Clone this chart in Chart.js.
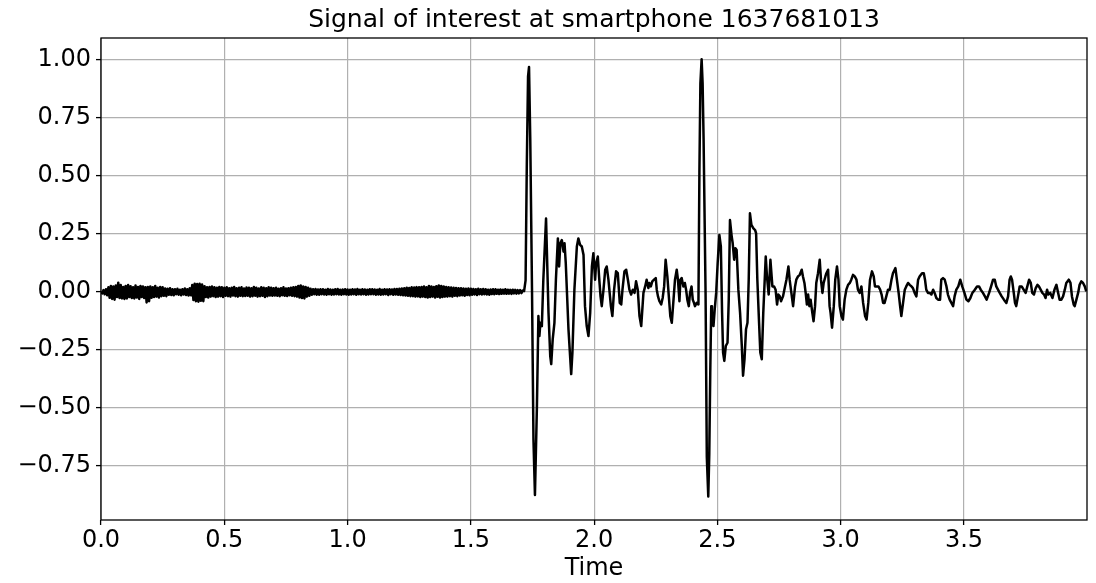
<!DOCTYPE html>
<html>
<head>
<meta charset="utf-8">
<title>Signal of interest</title>
<script src="https://cdn.jsdelivr.net/npm/chart.js@4.4.0/dist/chart.umd.min.js"></script>
<style>
  html, body { margin: 0; padding: 0; background: #fff; }
  #wrap { width: 1096px; height: 583px; }
</style>
</head>
<body>
<div id="wrap"><canvas id="signalChart" width="1096" height="583"></canvas></div>
<script>
// quiet stretch before the first arrival, one sample every 5 ms
var quietStart = 0.0;
var quietStep = 0.005;
var quietValues = [
  0.002, -0.006, 0.008, -0.010, 0.012, -0.014, 0.020, -0.025, 0.026, -0.030, 0.024, -0.033, 0.028, -0.022, 0.040, -0.026, 0.030, -0.028, 0.022, -0.030,
  0.026, -0.028, 0.030, -0.022, 0.025, -0.026, 0.020, -0.028, 0.028, -0.024, 0.022, -0.030, 0.026, -0.022, 0.024, -0.026, 0.020, -0.045, 0.022, -0.040,
  0.024, -0.025, 0.020, -0.022, 0.026, -0.020, 0.018, -0.024, 0.022, -0.018, 0.020, -0.016, 0.015, -0.018, 0.014, -0.012, 0.016, -0.013, 0.012, -0.014,
  0.012, -0.010, 0.014, -0.012, 0.010, -0.014, 0.012, -0.011, 0.015, -0.013, 0.012, -0.015, 0.016, -0.014, 0.030, -0.035, 0.036, -0.040, 0.034, -0.042,
  0.035, -0.038, 0.032, -0.040, 0.025, -0.022, 0.020, -0.024, 0.022, -0.020, 0.024, -0.018, 0.020, -0.022, 0.018, -0.020, 0.022, -0.018, 0.020, -0.022,
  0.018, -0.016, 0.020, -0.018, 0.016, -0.020, 0.018, -0.015, 0.022, -0.018, 0.016, -0.020, 0.018, -0.016, 0.020, -0.018, 0.015, -0.017, 0.019, -0.016,
  0.018, -0.020, 0.016, -0.018, 0.022, -0.016, 0.018, -0.020, 0.015, -0.018, 0.020, -0.016, 0.018, -0.022, 0.016, -0.018, 0.020, -0.015, 0.018, -0.016,
  0.016, -0.015, 0.018, -0.016, 0.014, -0.018, 0.016, -0.014, 0.020, -0.016, 0.015, -0.017, 0.016, -0.014, 0.018, -0.016, 0.020, -0.018, 0.022, -0.020,
  0.026, -0.024, 0.028, -0.026, 0.024, -0.028, 0.022, -0.020, 0.018, -0.016, 0.014, -0.012, 0.012, -0.010, 0.013, -0.012, 0.011, -0.012, 0.012, -0.010,
  0.012, -0.011, 0.010, -0.012, 0.013, -0.010, 0.011, -0.012, 0.010, -0.011, 0.012, -0.010, 0.013, -0.011, 0.010, -0.012, 0.011, -0.010, 0.012, -0.011,
  0.011, -0.012, 0.010, -0.011, 0.012, -0.010, 0.011, -0.012, 0.013, -0.010, 0.010, -0.011, 0.012, -0.010, 0.011, -0.012, 0.010, -0.011, 0.012, -0.010,
  0.012, -0.010, 0.011, -0.012, 0.010, -0.011, 0.013, -0.012, 0.010, -0.011, 0.012, -0.010, 0.011, -0.013, 0.012, -0.010, 0.011, -0.012, 0.013, -0.011,
  0.013, -0.012, 0.014, -0.013, 0.015, -0.014, 0.016, -0.015, 0.018, -0.016, 0.017, -0.018, 0.020, -0.018, 0.019, -0.020, 0.021, -0.019, 0.020, -0.022,
  0.022, -0.020, 0.024, -0.022, 0.020, -0.024, 0.026, -0.022, 0.024, -0.020, 0.022, -0.024, 0.025, -0.021, 0.028, -0.024, 0.026, -0.022, 0.024, -0.020,
  0.022, -0.020, 0.020, -0.018, 0.019, -0.020, 0.018, -0.016, 0.017, -0.018, 0.016, -0.015, 0.016, -0.014, 0.015, -0.016, 0.014, -0.013, 0.015, -0.014,
  0.014, -0.012, 0.013, -0.011, 0.012, -0.013, 0.014, -0.010, 0.012, -0.011, 0.013, -0.010, 0.012, -0.011, 0.010, -0.012, 0.011, -0.009, 0.012, -0.010,
  0.012, -0.008, 0.010, -0.009, 0.011, -0.008, 0.010, -0.007, 0.012, -0.008, 0.010, -0.007, 0.009, -0.008, 0.010, -0.006, 0.009, -0.007, 0.008, -0.006,
  0.008, -0.005, 0.006
];

// the two arrivals and their ringing
var burstTimes = [
  1.716, 1.722, 1.727, 1.732, 1.736, 1.741, 1.748, 1.754, 1.760, 1.768,
  1.774, 1.778, 1.782, 1.788, 1.794, 1.805, 1.815, 1.822, 1.826, 1.832,
  1.839, 1.845, 1.853, 1.858, 1.863, 1.869, 1.876, 1.880, 1.885, 1.896,
  1.907, 1.912, 1.920, 1.930, 1.936, 1.943, 1.950, 1.957, 1.963, 1.970,
  1.977, 1.984, 1.991, 1.997, 2.004, 2.008, 2.015, 2.020, 2.026, 2.031,
  2.038, 2.045, 2.051, 2.058, 2.068, 2.074, 2.081, 2.089, 2.096, 2.104,
  2.110, 2.115, 2.123, 2.130, 2.137, 2.143, 2.150, 2.157, 2.164, 2.170,
  2.177, 2.184, 2.191, 2.200, 2.207, 2.213, 2.220, 2.224, 2.230, 2.236,
  2.243, 2.250, 2.254, 2.259, 2.265, 2.272, 2.278, 2.284, 2.290, 2.297,
  2.304, 2.309, 2.315, 2.322, 2.328, 2.335, 2.340, 2.346, 2.350, 2.355,
  2.362, 2.368, 2.373, 2.378, 2.384, 2.389, 2.395, 2.400, 2.405, 2.409,
  2.416, 2.423, 2.427, 2.431, 2.436, 2.440, 2.444, 2.452, 2.457, 2.463,
  2.467, 2.471, 2.475, 2.478, 2.484, 2.489, 2.495, 2.501, 2.508, 2.514,
  2.519, 2.523, 2.528, 2.534, 2.541, 2.546, 2.551, 2.558, 2.562, 2.568,
  2.573, 2.578, 2.585, 2.592, 2.599, 2.604, 2.610, 2.616, 2.622, 2.627,
  2.632, 2.638, 2.646, 2.653, 2.657, 2.662, 2.669, 2.674, 2.680, 2.686,
  2.696, 2.701, 2.708, 2.715, 2.723, 2.730, 2.736, 2.742, 2.747, 2.753,
  2.758, 2.766, 2.773, 2.780, 2.788, 2.793, 2.800, 2.807, 2.815, 2.820,
  2.827, 2.834, 2.842, 2.847, 2.853, 2.858, 2.863, 2.868, 2.873, 2.878,
  2.885, 2.890, 2.896, 2.901, 2.908, 2.915, 2.920, 2.926, 2.931, 2.938,
  2.942, 2.949, 2.955, 2.959, 2.965, 2.972, 2.978, 2.985, 2.991, 2.996,
  3.003, 3.009, 3.016, 3.023, 3.030, 3.037, 3.043, 3.050, 3.057, 3.064,
  3.070, 3.077, 3.084, 3.091, 3.099, 3.105, 3.112, 3.119, 3.127, 3.134,
  3.139, 3.145, 3.153, 3.160, 3.166, 3.172, 3.178, 3.185, 3.192, 3.199,
  3.206, 3.212, 3.222, 3.228, 3.235, 3.241, 3.246, 3.253, 3.260, 3.266,
  3.273, 3.280, 3.287, 3.293, 3.300, 3.307, 3.314, 3.320, 3.330, 3.337,
  3.342, 3.347, 3.354, 3.361, 3.368, 3.375, 3.381, 3.388, 3.395, 3.403,
  3.408, 3.415, 3.422, 3.429, 3.435, 3.442, 3.449, 3.456, 3.462, 3.469,
  3.477, 3.485, 3.493, 3.502, 3.510, 3.518, 3.526, 3.534, 3.544, 3.553,
  3.561, 3.568, 3.577, 3.585, 3.592, 3.602, 3.610, 3.618, 3.625, 3.631,
  3.638, 3.645, 3.653, 3.662, 3.672, 3.679, 3.685, 3.690, 3.695, 3.702,
  3.707, 3.712, 3.719, 3.726, 3.734, 3.742, 3.750, 3.757, 3.764, 3.771,
  3.777, 3.784, 3.791, 3.798, 3.804, 3.811, 3.818, 3.825, 3.831, 3.837,
  3.842, 3.850, 3.859, 3.867, 3.875, 3.882, 3.888, 3.895, 3.902, 3.909,
  3.915, 3.925, 3.932, 3.938, 3.945, 3.949, 3.956, 3.963, 3.969, 3.976,
  3.983, 3.990, 3.996
];
var burstValues = [
  0.004, 0.050, 0.550, 0.930, 0.970, 0.657, 0.017, -0.637, -0.875, -0.494,
  -0.104, -0.190, -0.133, -0.147, 0.053, 0.317, -0.090, -0.276, -0.311, -0.204,
  -0.133, 0.053, 0.231, 0.110, 0.210, 0.224, 0.174, 0.210, 0.124, -0.161,
  -0.354, -0.261, 0.010, 0.196, 0.231, 0.203, 0.196, 0.160, -0.061, -0.147,
  -0.190, -0.090, 0.110, 0.167, 0.053, 0.124, 0.153, 0.067, -0.019, -0.061,
  0.010, 0.096, 0.110, 0.053, -0.061, -0.104, 0.010, 0.089, 0.081, -0.047,
  -0.054, 0.010, 0.089, 0.096, 0.053, 0.010, -0.011, 0.010, -0.004, 0.046,
  0.010, -0.104, -0.147, -0.004, 0.024, 0.053, 0.017, 0.039, 0.024, 0.046,
  0.053, 0.060, 0.010, -0.019, -0.040, -0.054, -0.026, 0.024, 0.139, 0.067,
  -0.033, -0.104, -0.133, -0.033, 0.053, 0.096, 0.053, -0.040, 0.053, 0.060,
  0.024, 0.039, 0.010, -0.033, -0.061, -0.004, 0.024, -0.033, -0.047, -0.061,
  -0.047, -0.054, 0.515, 0.900, 1.003, 0.900, 0.657, -0.004, -0.710, -0.882,
  -0.700, -0.350, -0.062, -0.119, -0.147, -0.076, -0.004, 0.124, 0.246, 0.196,
  -0.090, -0.261, -0.297, -0.233, -0.219, -0.033, 0.310, 0.239, 0.210, 0.139,
  0.189, 0.181, 0.010, -0.090, -0.233, -0.361, -0.290, -0.161, -0.133, 0.053,
  0.339, 0.289, 0.274, 0.267, 0.253, 0.053, -0.133, -0.261, -0.290, -0.090,
  0.153, 0.067, -0.011, 0.139, 0.024, 0.024, 0.010, -0.054, -0.011, -0.019,
  -0.040, -0.019, 0.017, 0.053, 0.110, 0.053, -0.004, -0.061, 0.024, 0.053,
  0.067, 0.074, 0.096, 0.067, 0.039, -0.004, -0.054, -0.011, -0.061, -0.033,
  -0.090, -0.126, -0.061, 0.039, 0.081, 0.139, 0.053, -0.004, 0.039, 0.067,
  0.081, 0.096, -0.061, -0.090, -0.154, -0.061, 0.053, 0.110, 0.053, -0.061,
  -0.104, -0.119, -0.033, 0.010, 0.031, 0.039, 0.053, 0.074, 0.067, 0.053,
  0.010, -0.004, 0.024, -0.047, -0.104, -0.119, -0.047, 0.053, 0.089, 0.067,
  0.024, 0.024, 0.024, 0.010, -0.011, -0.047, -0.047, -0.019, 0.010, 0.010,
  0.053, 0.081, 0.103, 0.053, -0.004, -0.061, -0.104, -0.047, 0.010, 0.024,
  0.039, 0.031, 0.024, 0.017, -0.004, -0.019, 0.053, 0.067, 0.081, 0.081,
  0.053, 0.010, -0.004, -0.004, -0.011, 0.010, -0.004, -0.026, -0.033, -0.033,
  0.053, 0.060, 0.053, 0.024, -0.011, -0.033, -0.047, -0.061, -0.019, 0.010,
  0.024, 0.053, 0.024, -0.004, -0.033, -0.040, -0.026, -0.004, 0.010, 0.024,
  0.024, 0.010, -0.004, -0.019, -0.033, -0.004, 0.024, 0.053, 0.053, 0.024,
  0.010, -0.004, -0.019, -0.033, -0.047, -0.019, 0.053, 0.067, 0.053, -0.004,
  -0.047, -0.061, -0.019, 0.024, 0.024, 0.010, -0.004, 0.024, 0.053, 0.039,
  -0.004, -0.011, 0.017, 0.031, 0.024, 0.010, -0.004, -0.011, -0.026, 0.010,
  -0.011, -0.004, -0.026, 0.010, 0.031, -0.004, -0.033, -0.033, -0.019, 0.010,
  0.039, 0.053, 0.039, -0.019, -0.054, -0.061, -0.033, -0.004, 0.031, 0.046,
  0.039, 0.024, 0.003
];

var xTicks = [0, 0.5, 1.0, 1.5, 2.0, 2.5, 3.0, 3.5];
var yTicks = [-0.75, -0.5, -0.25, 0, 0.25, 0.5, 0.75, 1.0];

var points = [];
quietValues.forEach(function (v, i) {
  points.push({ x: quietStart + i * quietStep, y: v });
});
burstTimes.forEach(function (t, i) {
  points.push({ x: t, y: burstValues[i] });
});

var FONT = 'DejaVu Sans';
var gridStyle = {
  color: '#b0b0b0',
  lineWidth: 1.2,
  drawTicks: true,
  tickLength: 5,
  tickColor: '#000',
  tickWidth: 1.3
};

// matplotlib style box round the axes
var frame = {
  id: 'frame',
  afterDatasetsDraw: function (chart) {
    var a = chart.chartArea;
    var ctx = chart.ctx;
    ctx.save();
    ctx.strokeStyle = '#000';
    ctx.lineWidth = 1.3;
    ctx.strokeRect(a.left, a.top, a.right - a.left, a.bottom - a.top);
    ctx.restore();
  }
};

var signalChart = new Chart(document.getElementById('signalChart'), {
  type: 'line',
  data: {
    datasets: [{
      label: 'signal',
      data: points,
      borderColor: '#000',
      borderWidth: 2.5,
      borderJoinStyle: 'round',
      pointRadius: 0,
      tension: 0,
      fill: false
    }]
  },
  options: {
    responsive: false,
    animation: false,
    events: [],
    layout: { padding: { left: 0, right: 9, top: 0, bottom: 0 } },
    plugins: {
      legend: { display: false },
      tooltip: { enabled: false },
      title: {
        display: true,
        fullSize: false,
        text: 'Signal of interest at smartphone 1637681013',
        color: '#000',
        font: { family: FONT, size: 25, weight: 'normal' },
        padding: { top: 5, bottom: 3 }
      }
    },
    scales: {
      x: {
        type: 'linear',
        min: 0,
        max: 3.999,
        grid: gridStyle,
        border: { display: false },
        ticks: {
          color: '#000',
          font: { family: FONT, size: 24 },
          padding: 1,
          maxRotation: 0,
          autoSkip: false,
          callback: function (v) { return v.toFixed(1); }
        },
        title: {
          display: true,
          text: 'Time',
          color: '#000',
          font: { family: FONT, size: 24 },
          padding: { top: 0, bottom: 0 }
        },
        afterBuildTicks: function (s) {
          s.ticks = xTicks.map(function (v) { return { value: v }; });
        },
        afterFit: function (s) { s.height = 63; }
      },
      y: {
        min: -0.983,
        max: 1.095,
        grid: gridStyle,
        border: { display: false },
        ticks: {
          color: '#000',
          font: { family: FONT, size: 24 },
          padding: 5,
          autoSkip: false,
          callback: function (v) { return v.toFixed(2).replace('-', '\u2212'); }
        },
        afterBuildTicks: function (s) {
          s.ticks = yTicks.map(function (v) { return { value: v }; });
        },
        afterFit: function (s) { s.width = 101; }
      }
    }
  },
  plugins: [frame]
});
</script>
</body>
</html>
